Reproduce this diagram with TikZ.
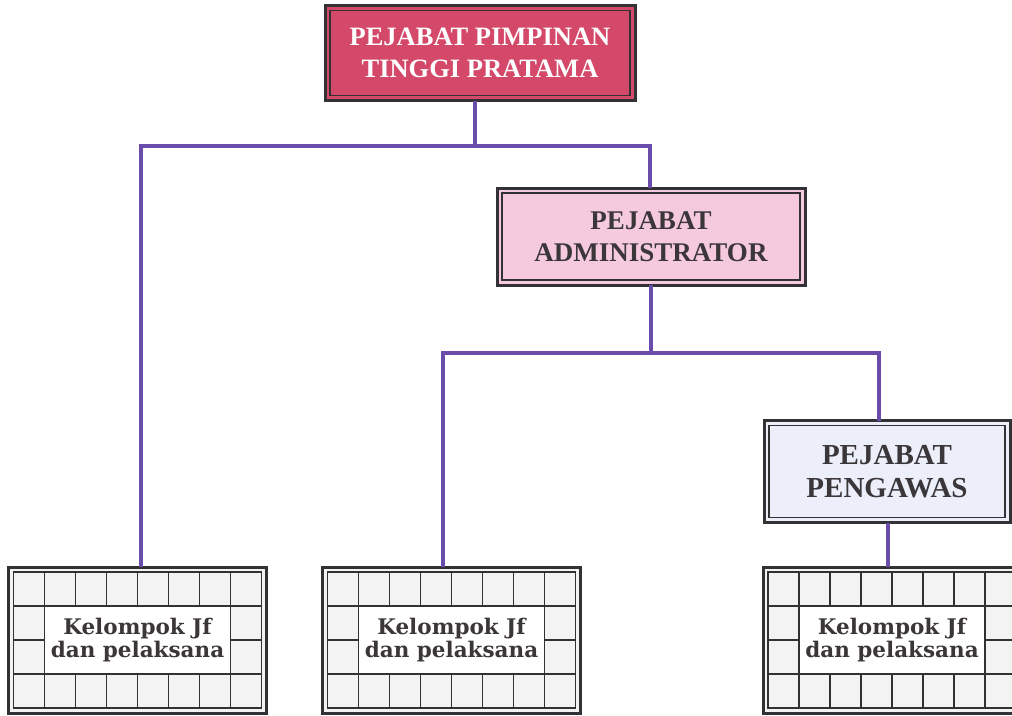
\documentclass[tikz,border=0pt]{standalone}
\usepackage{fontspec}
\setmainfont{Liberation Serif}
\newfontfamily\slabfont{DejaVu Serif}
\usetikzlibrary{calc}
\definecolor{conncol}{RGB}{106,76,170}
\definecolor{framecol}{RGB}{50,50,52}
\definecolor{topfill}{RGB}{212,72,106}
\definecolor{admfill}{RGB}{246,202,222}
\definecolor{pengfill}{RGB}{236,239,250}
\definecolor{txtcol}{RGB}{58,54,58}
\definecolor{cellfill}{RGB}{243,243,243}
\begin{document}
\begin{tikzpicture}[x=1pt,y=-1pt,
  conn/.style={draw=conncol,line width=4pt},
  outerframe/.style={draw=framecol,line width=3pt,inner sep=0pt,outer sep=0pt},
  innerframe/.style={draw=framecol,line width=1.2pt},
  titlebox/.style={outerframe,align=center,font=\bfseries\fontsize{27}{32}\selectfont},
  gridline/.style={draw=framecol,line width=1.8pt},
  jfbox/.style={outerframe,fill=cellfill,minimum width=258pt,minimum height=146pt},
  jftext/.style={align=center,text=txtcol,font=\slabfont\bfseries\fontsize{21.5}{23}\selectfont}
]
\clip (0,0) rectangle (1012,715);
\fill[white] (0,0) rectangle (1012,715);

% connector bends
\coordinate (b0) at (475,146);
\coordinate (b1) at (141,146);
\coordinate (b2) at (650,146);
\coordinate (b3) at (651,353);
\coordinate (b4) at (443,353);
\coordinate (b5) at (879,353);
\coordinate (b6) at (888,545);

% boxes
\node[titlebox,fill=topfill,text=white,minimum width=310pt,minimum height=95pt,font=\bfseries\fontsize{26.5}{32}\selectfont] (top) at (480,53) {PEJABAT PIMPINAN\\TINGGI PRATAMA};
\node[titlebox,fill=admfill,text=txtcol,minimum width=308pt,minimum height=97pt] (adm) at (651,236.5) {PEJABAT\\ADMINISTRATOR};
\node[titlebox,fill=pengfill,text=txtcol,minimum width=246pt,minimum height=102pt,font=\bfseries\fontsize{29}{33}\selectfont] (peng) at (887,471.5) {PEJABAT\\PENGAWAS};

\node[jfbox] (k1) at (137.5,640) {};
\node[jfbox] (k2) at (451.5,640) {};
\node[jfbox] (k3) at (892,640) {};

\draw[conn] (top.south -| b0) -- (b0);
\draw[conn] (k1.north -| b1) -- (b1) -- (b2) -- (adm.north -| b2);
\draw[conn] (adm.south -| b3) -- (b3);
\draw[conn] (k2.north -| b4) -- (b4) -- (b5) -- (peng.north -| b5);
\draw[conn] (peng.south -| b6) -- (k3.north -| b6);

\foreach \n in {top,adm,peng,k1,k2,k3}
  \draw[innerframe] ([shift={(5,5)}]\n.north west) rectangle ([shift={(-5,-5)}]\n.south east);

\foreach \n in {k1,k2,k3}{
  \begin{scope}[shift={($(\n.north west)+(5,5)$)}]
    \fill[white] (31,34) rectangle (217,102);
    \foreach \i in {1,...,7}{
      \draw[gridline] (31*\i,0) -- (31*\i,34);
      \draw[gridline] (31*\i,102) -- (31*\i,136);
    }
    \draw[gridline] (31,0) -- (31,136);
    \draw[gridline] (217,0) -- (217,136);
    \draw[gridline] (0,34) -- (248,34);
    \draw[gridline] (0,102) -- (248,102);
    \draw[gridline] (0,68) -- (31,68);
    \draw[gridline] (217,68) -- (248,68);
  \end{scope}
}
\node[jftext] (k1t) at (k1.center) {Kelompok Jf\\dan pelaksana};
\node[jftext] (k2t) at (k2.center) {Kelompok Jf\\dan pelaksana};
\node[jftext] (k3t) at (k3.center) {Kelompok Jf\\dan pelaksana};
\end{tikzpicture}
\end{document}
